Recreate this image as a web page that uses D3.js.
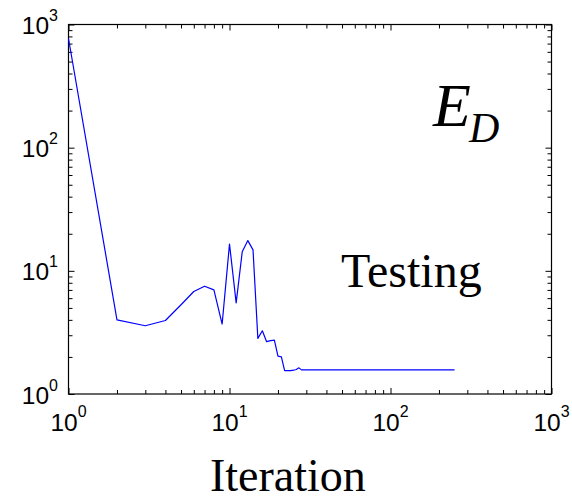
<!DOCTYPE html>
<html>
<head>
<meta charset="utf-8">
<script src="https://cdn.jsdelivr.net/npm/d3@7"></script>
<style>
  html, body { margin: 0; padding: 0; background: #fff; }
  svg { display: block; }
</style>
</head>
<body>
<svg id="chart" width="572" height="502"></svg>
<script>
// ---- data ----
const iterations = [1, 2, 3, 4, 5, 6, 7, 8, 9, 10, 11, 12, 13, 14, 15, 16, 17, 18, 19, 20,
                    21, 22, 23, 24, 25, 26, 27, 28, 250];
const errorValues = [770, 4.0, 3.58, 3.95, 5.3, 6.8, 7.5, 7.0, 3.7, 16.5, 5.5, 14.3, 17.6, 14.8,
                     2.83, 3.26, 2.66, 2.71, 2.74, 2.03, 2.0, 1.55, 1.55, 1.55, 1.56, 1.58, 1.63, 1.57, 1.57];
const xMajorTicks = [1, 10, 100, 1000];
const yMajorTicks = [1, 10, 100, 1000];
const tickExponents = ["0", "1", "2", "3"];
const xLabel = "Iteration";
const annotation = "Testing";
const symbolMain = "E";
const symbolSub = "D";

// ---- layout ----
const svg = d3.select("#chart");
const L = 68.5, R = 551.5, T = 24.5, B = 394;

const x = d3.scaleLog().domain([1, 1000]).range([L, R]);
const y = d3.scaleLog().domain([1, 1000]).range([B, T]);

function minorTicks(domain) {
  const out = [];
  for (let d = domain[0]; d < domain[1]; d *= 10) {
    for (let k = 2; k <= 9; k++) out.push(d * k);
  }
  return out;
}
const xMinor = minorTicks([1, 1000]);
const yMinor = minorTicks([1, 1000]);

const g = svg.append("g");

// ticks (inside, all four sides)
function drawTicks(axisGen, transform) {
  const a = g.append("g").attr("transform", transform).call(axisGen);
  a.select(".domain").remove();
  a.selectAll("line").attr("stroke", "#000").attr("stroke-width", 1);
  a.selectAll("text").remove();
}
drawTicks(d3.axisBottom(x).tickValues(xMinor).tickSizeInner(-4).tickSizeOuter(0), `translate(0,${B})`);
drawTicks(d3.axisBottom(x).tickValues(xMajorTicks).tickSizeInner(-6).tickSizeOuter(0), `translate(0,${B})`);
drawTicks(d3.axisTop(x).tickValues(xMinor).tickSizeInner(-4).tickSizeOuter(0), `translate(0,${T})`);
drawTicks(d3.axisTop(x).tickValues(xMajorTicks).tickSizeInner(-6).tickSizeOuter(0), `translate(0,${T})`);
drawTicks(d3.axisLeft(y).tickValues(yMinor).tickSizeInner(-4).tickSizeOuter(0), `translate(${L},0)`);
drawTicks(d3.axisLeft(y).tickValues(yMajorTicks).tickSizeInner(-6).tickSizeOuter(0), `translate(${L},0)`);
drawTicks(d3.axisRight(y).tickValues(yMinor).tickSizeInner(-4).tickSizeOuter(0), `translate(${R},0)`);
drawTicks(d3.axisRight(y).tickValues(yMajorTicks).tickSizeInner(-6).tickSizeOuter(0), `translate(${R},0)`);

// frame
g.append("rect")
  .attr("x", L).attr("y", T)
  .attr("width", R - L).attr("height", B - T)
  .attr("fill", "none").attr("stroke", "#000").attr("stroke-width", 1.2);

// data line
const line = d3.line().x(d => x(d[0])).y(d => y(d[1]));
g.append("path")
  .datum(iterations.map((it, i) => [it, errorValues[i]]))
  .attr("d", line)
  .attr("fill", "none")
  .attr("stroke", "#0000ff")
  .attr("stroke-width", 1.2)
  .attr("stroke-linejoin", "round");

// tick labels
const labelFont = "'Liberation Sans', Arial, sans-serif";
yMajorTicks.forEach((v, i) => {
  const t = g.append("text")
    .attr("x", L - 10.5)
    .attr("y", y(v) + 9.5)
    .attr("text-anchor", "end")
    .attr("font-family", labelFont)
    .attr("font-size", 24.5)
    .attr("fill", "#000");
  t.append("tspan").text("10");
  t.append("tspan").attr("dy", -13).attr("font-size", 16).text(tickExponents[i]);
});
xMajorTicks.forEach((v, i) => {
  const t = g.append("text")
    .attr("x", x(v))
    .attr("y", 431)
    .attr("text-anchor", "middle")
    .attr("font-family", labelFont)
    .attr("font-size", 24.5)
    .attr("fill", "#000");
  t.append("tspan").text("10");
  t.append("tspan").attr("dy", -14).attr("font-size", 16).text(tickExponents[i]);
});

// axis label
const serif = "'Liberation Serif', 'Times New Roman', serif";
svg.append("text")
  .attr("x", 210).attr("y", 491)
  .attr("font-family", serif).attr("font-size", 46)
  .attr("fill", "#000")
  .text(xLabel);

// annotations
svg.append("text")
  .attr("x", 341).attr("y", 287)
  .attr("font-family", serif).attr("font-size", 48)
  .attr("fill", "#000")
  .text(annotation);

svg.append("text")
  .attr("x", 433).attr("y", 126)
  .attr("font-family", serif).attr("font-size", 62)
  .attr("font-style", "italic")
  .attr("fill", "#000")
  .text(symbolMain);
svg.append("text")
  .attr("x", 469).attr("y", 142)
  .attr("font-family", serif).attr("font-size", 42)
  .attr("font-style", "italic")
  .attr("fill", "#000")
  .text(symbolSub);
</script>
</body>
</html>
